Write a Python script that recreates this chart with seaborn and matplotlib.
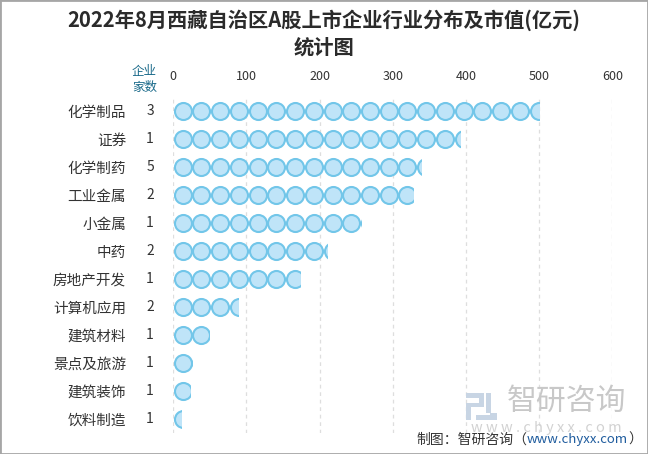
import numpy as np
import pandas as pd
import matplotlib
matplotlib.use('Agg')
import matplotlib.pyplot as plt
from matplotlib.patches import Rectangle
import seaborn as sns

categories = ['化学制品', '证券', '化学制药', '工业金属', '小金属', '中药',
              '房地产开发', '计算机应用', '建筑材料', '景点及旅游', '建筑装饰', '饮料制造']
counts = [3, 1, 5, 2, 1, 2, 1, 2, 1, 1, 1, 1]
values = [500, 392, 338, 327, 257, 210, 173, 88, 49, 26, 23, 11]
x_ticks = [0, 100, 200, 300, 400, 500, 600]

title_line1 = '2022年8月西藏自治区A股上市企业行业分布及市值(亿元)'
title_line2 = '统计图'

sns.set_theme(style='white')
plt.rcParams['font.family'] = ['Noto Sans CJK SC', 'DejaVu Sans']

W, H = 648, 454
fig = plt.figure(figsize=(W / 100, H / 100), dpi=100)
fig.patch.set_facecolor('white')

def fx(px):
    return px / W

def fy(py):
    return 1 - py / H

ax = fig.add_axes([fx(173.3), fy(433), 439 / W, 336 / H])

df = pd.DataFrame({'category': categories, 'value': values, 'count': counts})
sns.barplot(data=df, x='value', y='category', orient='h', ax=ax, width=1.0,
            color='white', alpha=0.0, linewidth=0)
bars = list(ax.patches)

step = 25.6          # symbol repeat spacing in data units (style)
fill_c = '#bfe4f8'
edge_c = '#72c6e9'

for i, v in enumerate(values):
    n = int(np.ceil(v / step))
    sym = pd.DataFrame({'x': step * (np.arange(n) + 0.5), 'y': np.full(n, i)})
    before = len(ax.collections)
    sns.scatterplot(data=sym, x='x', y='y', ax=ax, s=150, color=fill_c,
                    edgecolor=edge_c, linewidth=1.5, zorder=3, legend=False)
    for coll in ax.collections[before:]:
        coll.set_clip_path(bars[i])

ax.set_xlim(0, 600)
ax.set_ylim(len(categories) - 0.5, -0.5)
ax.set_xticks(x_ticks)
ax.xaxis.tick_top()
ax.tick_params(axis='x', length=0, pad=10, labelsize=9, labelcolor='#333333')
ax.set_yticks(range(len(categories)))
ax.set_yticklabels(categories)
ax.tick_params(axis='y', length=0, pad=34, labelsize=10.5, labelcolor='#333333')
ax.set_xlabel('')
ax.set_ylabel('')
ax.xaxis.grid(True, linestyle=(0, (3, 3)), color='#dedede', linewidth=0.9)
ax.yaxis.grid(False)
ax.set_axisbelow(True)
for s in ax.spines.values():
    s.set_visible(False)

# count column
trans = ax.get_yaxis_transform()
for i, c in enumerate(counts):
    ax.text((150 - 173.3) / 439, i, str(c), transform=trans, ha='center',
            va='center', fontsize=10, color='#333333', clip_on=False)

fig.text(fx(144.5), fy(72), '企业', ha='center', va='center', fontsize=9, color='#1a6a8a')
fig.text(fx(144.5), fy(87), '家数', ha='center', va='center', fontsize=9, color='#1a6a8a')

# title
fig.text(0.5, fy(20), title_line1, ha='center', va='center', fontsize=14.6,
         fontweight='bold', color='#2b2b2b')
fig.text(0.5, fy(47), title_line2, ha='center', va='center', fontsize=14.6,
         fontweight='bold', color='#2b2b2b')

# watermark
logo_c = '#c8d5e4'
for (x0, y0, w, h) in [(466, 393, 18, 5), (479, 393, 5, 14), (466, 403, 16, 4),
                       (466, 403, 5, 17), (486, 393, 5, 20), (476, 415, 21, 5), (490, 413, 7, 3)]:
    fig.add_artist(Rectangle((fx(x0), fy(y0 + h)), w / W, h / H, transform=fig.transFigure,
                             facecolor=logo_c, edgecolor='none'))
fig.text(fx(567), fy(401), '智研咨询', ha='center', va='center', fontsize=21.5, color='#c8c8c8')
fig.text(fx(546), fy(428), 'w w w . c h y x x . c o m', ha='center', va='center',
         fontsize=10.5, color='#d2d2d2')

# footer
t1 = fig.text(fx(416), fy(440), '制图：智研咨询（', ha='left', va='center', fontsize=10, color='#333333')
t2 = ax.annotate('www.chyxx.com', xy=(1, 0.5), xycoords=t1, ha='left', va='center',
                 fontsize=9.5, color='#1f5c9e', annotation_clip=False)
t3 = ax.annotate('）', xy=(1, 0.5), xycoords=t2, ha='left', va='center',
                 fontsize=10, color='#333333', annotation_clip=False)

# border
fig.add_artist(Rectangle((0, 0), 1, 1, transform=fig.transFigure, facecolor='none',
                         edgecolor='#a6a6a6', linewidth=2))

fig.savefig('out.png', dpi=100)
